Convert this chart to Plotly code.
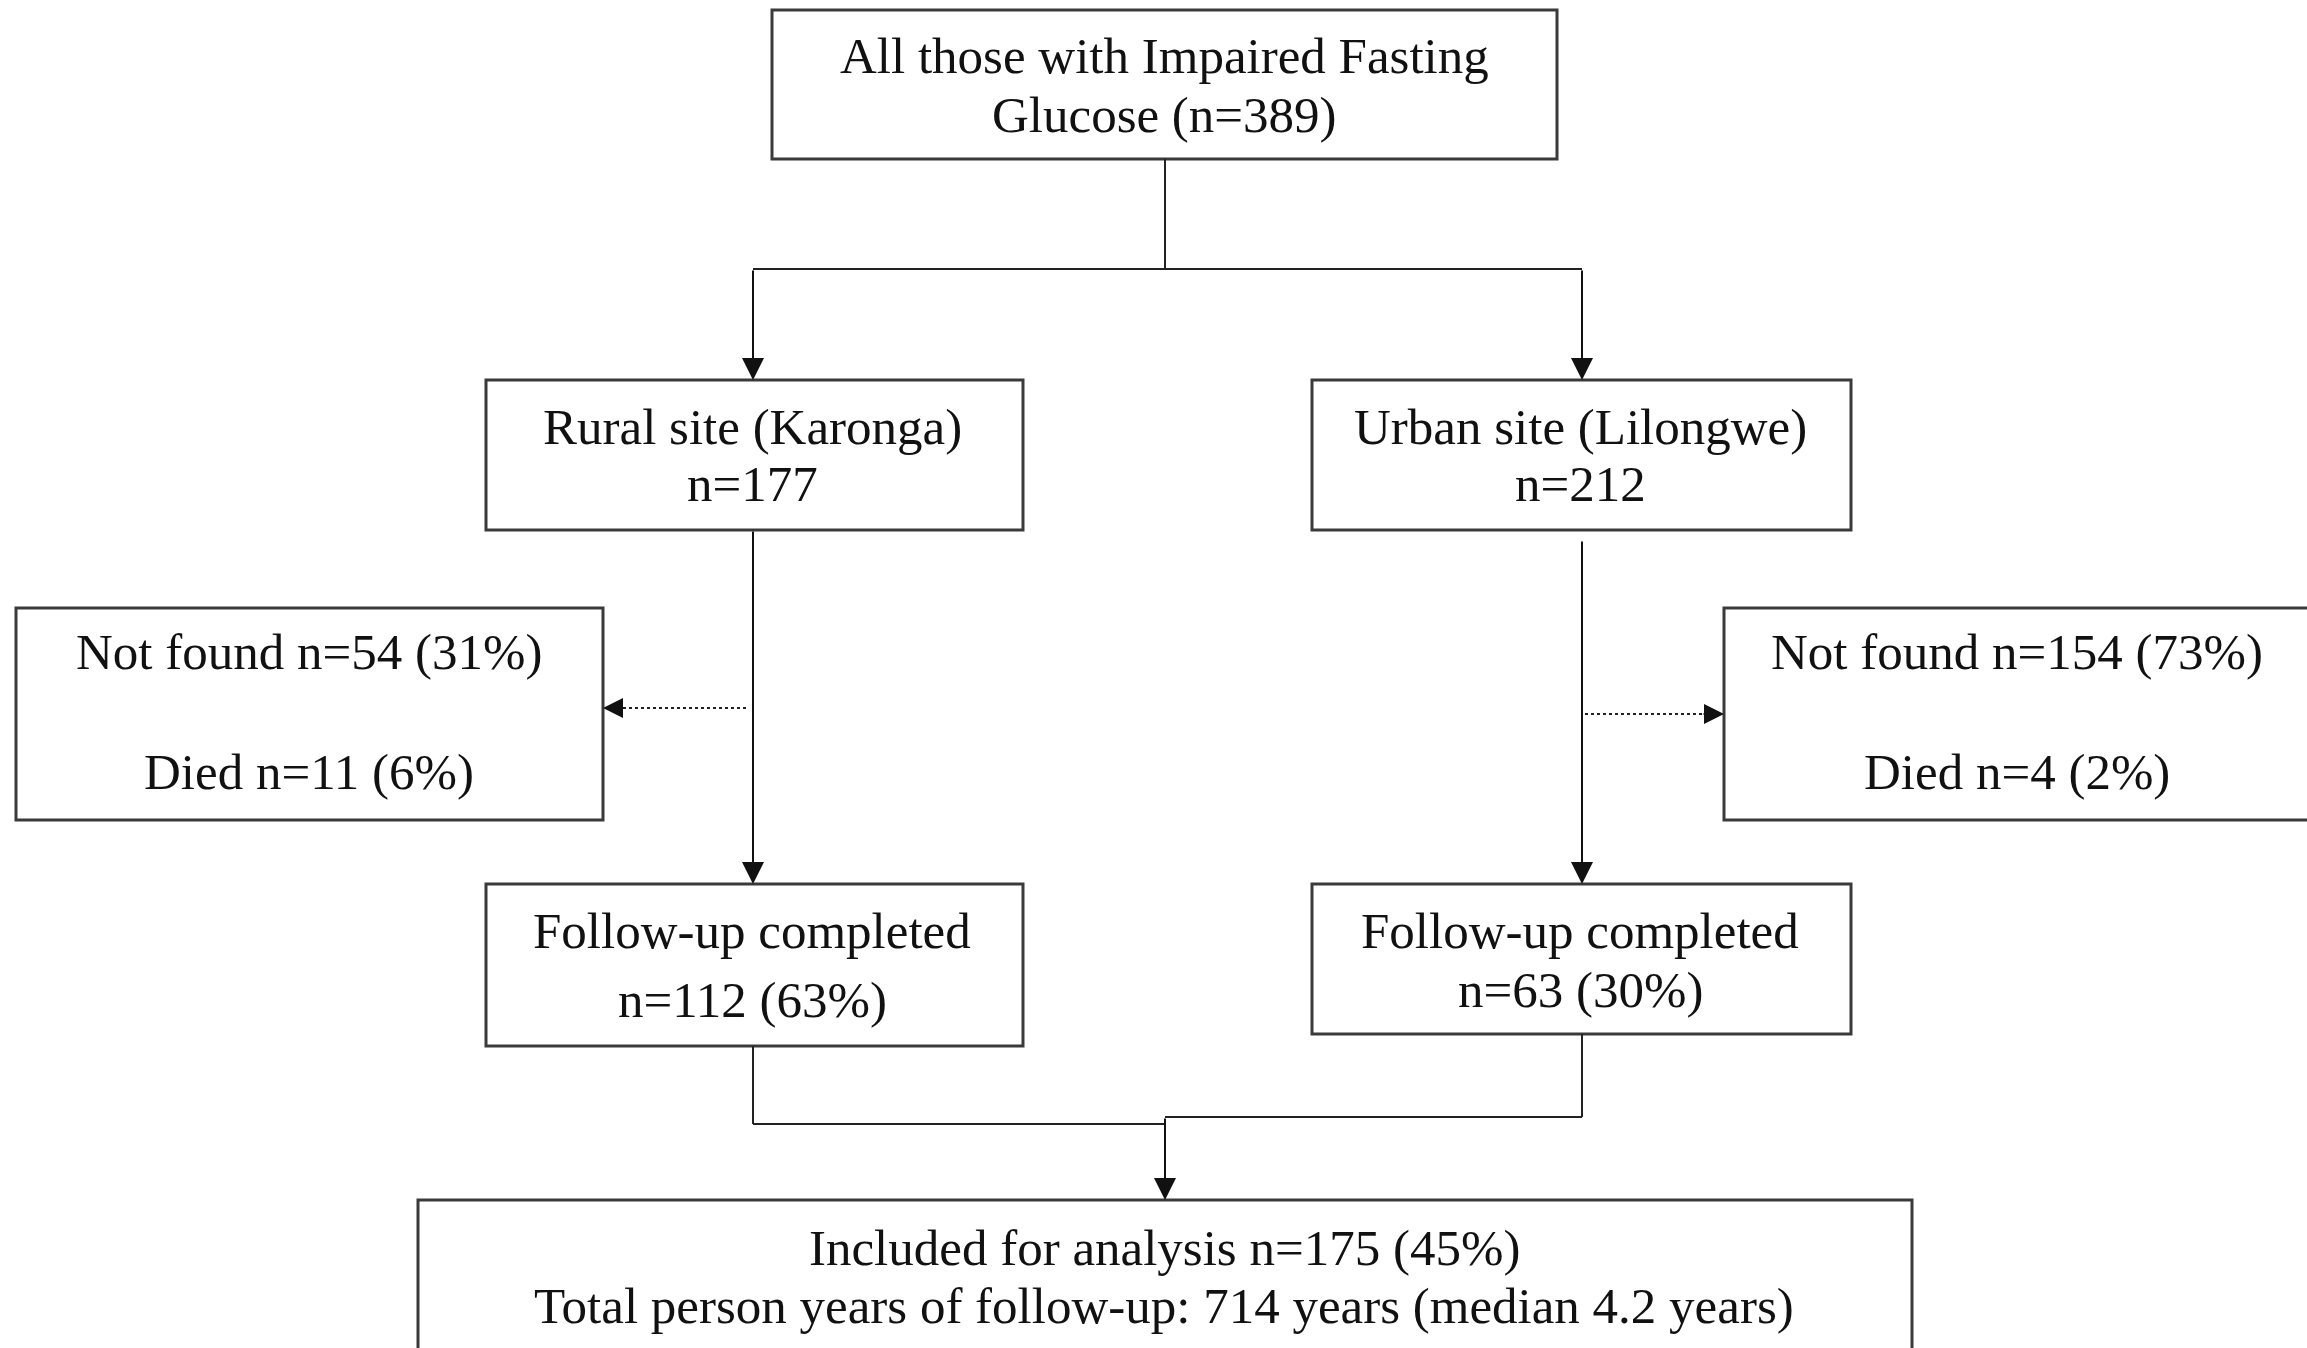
import plotly.graph_objects as go

# ---- content (text of each box) ----
box_names = ["top", "rural", "urban", "lost_rural", "lost_urban", "fu_rural", "fu_urban", "final"]
box_lines = [
    ["All those with Impaired Fasting", "Glucose (n=389)"],
    ["Rural site (Karonga)", "n=177"],
    ["Urban site (Lilongwe)", "n=212"],
    ["Not found n=54 (31%)", "Died n=11 (6%)"],
    ["Not found n=154 (73%)", "Died n=4 (2%)"],
    ["Follow-up completed", "n=112 (63%)"],
    ["Follow-up completed", "n=63 (30%)"],
    ["Included for analysis n=175 (45%)", "Total person years of follow-up: 714 years (median 4.2 years)"],
]

# ---- layout geometry (pixels, y downward) ----
W, H = 2307, 1348
box_x0 = [772, 486, 1312, 16, 1724, 486, 1312, 418]
box_x1 = [1557, 1023, 1851, 603, 2330, 1023, 1851, 1912]
box_y0 = [10, 380, 380, 608, 608, 884, 884, 1200]
box_y1 = [159, 530, 530, 820, 820, 1046, 1034, 1370]
text_cx = [1164, 752, 1580, 309, 2017, 752, 1580, 1164]
text_y = [[56, 115], [427, 484], [427, 484], [652, 772], [652, 772],
          [931, 1000], [931, 990], [1248, 1306]]

FONT = dict(family="Liberation Serif, Times New Roman, serif", size=51, color="#111111")
BOX_LINE = dict(color="#3a3a3a", width=3)
CONN = dict(color="#222222", width=2)

fig = go.Figure()
fig.add_trace(go.Scatter(x=[0, W], y=[0, H], mode="markers",
                         marker=dict(opacity=0), hoverinfo="skip", showlegend=False))

shapes = []
annotations = []

for i in range(len(box_names)):
    shapes.append(dict(type="rect", xref="x", yref="y",
                       x0=box_x0[i], x1=box_x1[i], y0=box_y0[i], y1=box_y1[i],
                       line=BOX_LINE, fillcolor="rgba(0,0,0,0)"))
    for line_text, ty in zip(box_lines[i], text_y[i]):
        annotations.append(dict(x=text_cx[i], y=ty, xref="x", yref="y", text=line_text,
                                showarrow=False, font=FONT, xanchor="center", yanchor="middle"))

# plain connector segments (x0, y0, x1, y1)
segments = [
    (1165, 159, 1165, 269),
    (753, 269, 1582, 269),
    (753, 1046, 753, 1124),
    (1582, 1034, 1582, 1117),
    (753, 1124, 1165, 1124),
    (1165, 1117, 1582, 1117),
]
for (a, b, c, d) in segments:
    shapes.append(dict(type="line", xref="x", yref="y", x0=a, y0=b, x1=c, y1=d, line=CONN))

# solid arrows: (tail_x, tail_y, head_x, head_y)
arrows = [
    (753, 269, 753, 380),
    (1582, 269, 1582, 380),
    (753, 530, 753, 884),
    (1582, 540, 1582, 884),
    (1165, 1117, 1165, 1200),
]
for (tx, ty, hx, hy) in arrows:
    annotations.append(dict(x=hx, y=hy, ax=tx, ay=ty, xref="x", yref="y", axref="x", ayref="y",
                            text="", showarrow=True, arrowhead=2, arrowsize=2.2,
                            arrowwidth=2, arrowcolor="#111111", standoff=0))

# dotted arrows
dotted = [
    (746, 708, 603, 708),
    (1585, 714, 1724, 714),
]
for (tx, ty, hx, hy) in dotted:
    direction = 1 if hx > tx else -1
    shapes.append(dict(type="line", xref="x", yref="y", x0=tx, y0=ty, x1=hx - direction * 14, y1=hy,
                       line=dict(color="#222222", width=2, dash="dot")))
    annotations.append(dict(x=hx, y=hy, ax=hx - direction * 22, ay=hy, xref="x", yref="y",
                            axref="x", ayref="y", text="", showarrow=True, arrowhead=2,
                            arrowsize=2.0, arrowwidth=2, arrowcolor="#111111", standoff=0))

fig.update_layout(
    width=W, height=H,
    margin=dict(l=0, r=0, t=0, b=0),
    paper_bgcolor="white", plot_bgcolor="white",
    xaxis=dict(range=[0, W], visible=False, fixedrange=True),
    yaxis=dict(range=[H, 0], visible=False, fixedrange=True),
    shapes=shapes, annotations=annotations, showlegend=False,
)

fig.write_html("out.html", config={"displayModeBar": False},
               post_script="document.body.style.margin='0';document.body.style.overflow='hidden';")
